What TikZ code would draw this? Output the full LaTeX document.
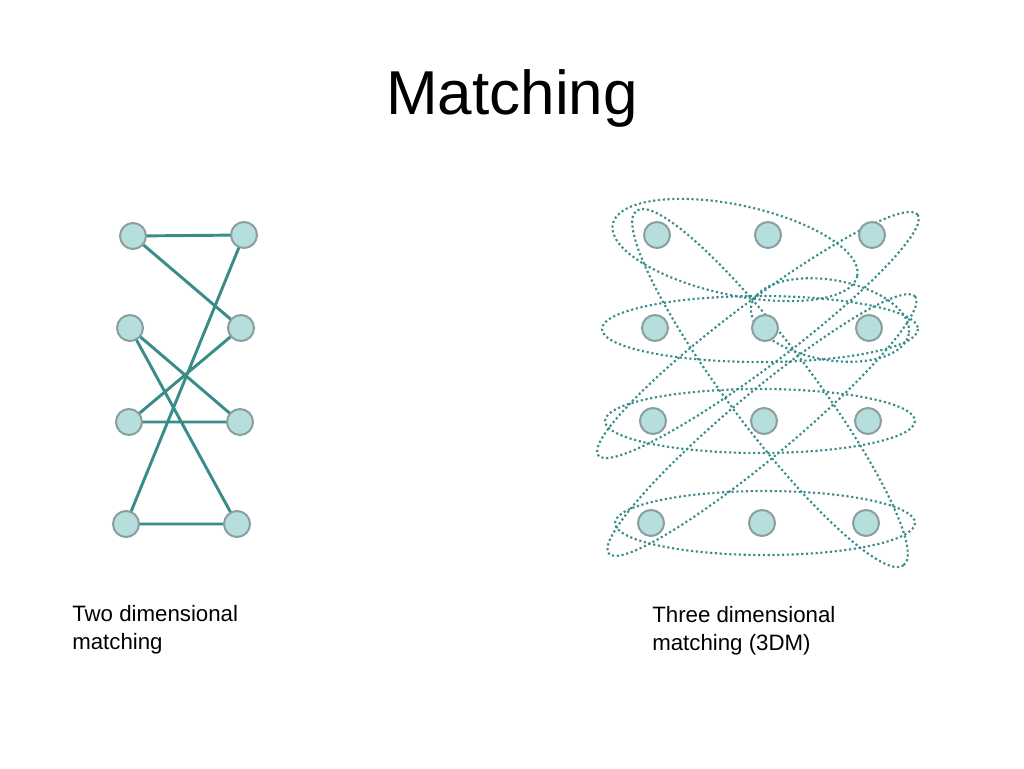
\documentclass[tikz,border=0pt]{standalone}
\usepackage{fontspec}
\setmainfont{Liberation Sans}
\begin{document}
\begin{tikzpicture}[x=0.75pt,y=-0.75pt,
  vtx/.style={circle,minimum size=19.5pt,inner sep=0pt,fill=vfill,draw=vedge,line width=1.5pt},
  edge/.style={draw=ecol,line width=2.2pt},
  loopc/.style={draw=ecol,dotted,line width=1.6pt},
  lbl/.style={anchor=north west,align=left,font=\fontsize{16.7}{21}\selectfont,inner sep=0pt}]
\definecolor{vfill}{HTML}{B5DEDD}\definecolor{vedge}{HTML}{8A9E9F}\definecolor{ecol}{HTML}{3A8C8A}
\useasboundingbox (0,0) rectangle (1024,768);
\node at (512,98) {\fontsize{46.5}{52}\selectfont Matching};
% left
\foreach \n/\x/\y in {l1/133/236,r1/244/235,l2/130/328,r2/241/328,l3/129/422,r3/240/422,l4/126/524,r4/237/524}
  \coordinate (\n c) at (\x,\y);
\path[edge] (l1c)--(r1c) (l1c)--(r2c) (r1c)--(l4c) (l2c)--(r3c) (l2c)--(r4c) (l3c)--(r2c) (l3c)--(r3c) (l4c)--(r4c);
\foreach \n in {l1,r1,l2,r2,l3,r3,l4,r4} \node[vtx] (\n) at (\n c) {};
% right loops
\draw[loopc] (760,329) ellipse [x radius=158,y radius=33];
\draw[loopc] (760,421) ellipse [x radius=155,y radius=32];
\draw[loopc] (765,523) ellipse [x radius=150,y radius=32];
\draw[loopc] (735,250) ellipse [x radius=125,y radius=45,rotate=-12];
\draw[loopc] (770,388) ellipse [x radius=222,y radius=42,rotate=-53];
\draw[loopc] (758,335) ellipse [x radius=200,y radius=32,rotate=37];
\draw[loopc] (762,425) ellipse [x radius=200,y radius=32,rotate=40];
\draw[loopc] (830,320) ellipse [x radius=80,y radius=40,rotate=-10];
% right vertices
\foreach \n/\x/\y in {a1/657/235,a2/768/235,a3/872/235,b1/655/328,b2/765/328,b3/869/328,c1/653/421,c2/764/421,c3/868/421,d1/651/523,d2/762/523,d3/866/523}
  \node[vtx] (\n) at (\x,\y) {};
\node[lbl] at (72,605) {Two dimensional\\matching};
\node[lbl] at (652,606) {Three dimensional\\matching (3DM)};
\end{tikzpicture}
\end{document}
